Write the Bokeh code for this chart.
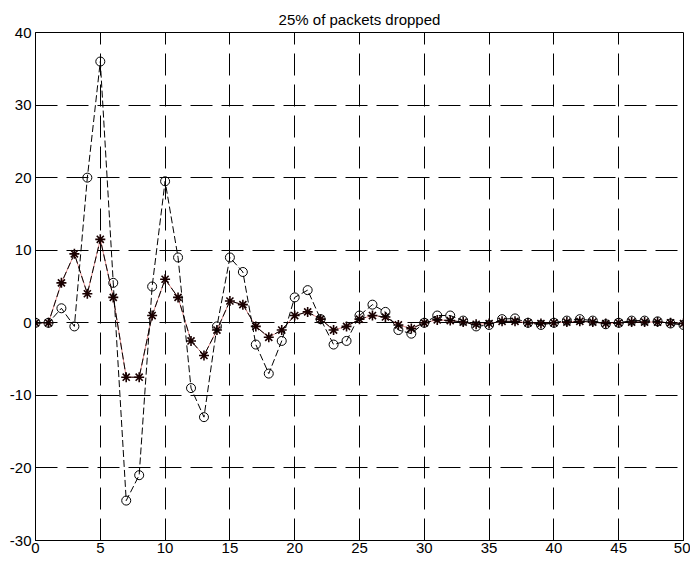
from bokeh.plotting import figure
from bokeh.models import Range1d, FixedTicker, PrintfTickFormatter
from bokeh.embed import file_html
from bokeh.resources import INLINE

x = list(range(0, 51))
circle_vals = [0, 0, 2, -0.5, 20, 36, 5.5, -24.5, -21, 5, 19.5, 9, -9, -13, -0.5, 9, 7, -3, -7, -2.5,
               3.5, 4.5, 0.5, -3, -2.5, 1, 2.5, 1.5, -1, -1.5, 0, 1, 1, 0.3, -0.5, -0.3, 0.5, 0.6, 0, -0.3,
               0, 0.3, 0.5, 0.3, -0.2, 0, 0.3, 0.3, 0.2, -0.1, -0.3]
star_vals = [0, 0, 5.5, 9.5, 4, 11.5, 3.5, -7.5, -7.5, 1, 6, 3.5, -2.5, -4.5, -1, 3, 2.5, -0.5, -2, -1,
             1, 1.5, 0.5, -1, -0.5, 0.5, 1, 0.8, -0.3, -0.8, 0, 0.4, 0.3, 0.1, -0.2, -0.1, 0.2, 0.2, 0, -0.1,
             0, 0.1, 0.2, 0.1, -0.1, 0, 0.1, 0.1, 0.1, 0, -0.1]
x_ticks = [0, 5, 10, 15, 20, 25, 30, 35, 40, 45, 50]
y_ticks = [-30, -20, -10, 0, 10, 20, 30, 40]

p = figure(width=690, height=565, output_backend="svg", toolbar_location=None,
           x_range=Range1d(0, 50), y_range=Range1d(-30, 40),
           min_border_left=35, min_border_right=7, min_border_top=32, min_border_bottom=25,
           title="25% of packets dropped")
p.title.align = "center"
p.title.text_font = "Liberation Sans"
p.title.text_font_style = "normal"
p.title.text_font_size = "15px"
p.title.text_color = "black"

p.background_fill_color = "white"
p.border_fill_color = "white"
p.outline_line_color = "black"
p.outline_line_width = 1
p.outline_line_alpha = 1

for ax in (p.xaxis[0], p.yaxis[0]):
    ax.axis_line_color = "black"
    ax.major_tick_in = 6
    ax.major_tick_out = 0
    ax.minor_tick_in = 0
    ax.minor_tick_out = 0
    ax.major_tick_line_color = "black"
    ax.major_label_text_font = "Liberation Sans"
    ax.major_label_text_font_size = "15px"
    ax.major_label_text_color = "black"
    ax.formatter = PrintfTickFormatter(format="%d")
p.xaxis[0].ticker = FixedTicker(ticks=x_ticks)
p.yaxis[0].ticker = FixedTicker(ticks=y_ticks)
p.xaxis[0].major_label_standoff = 2
p.yaxis[0].major_label_standoff = 4

p.xgrid.ticker = FixedTicker(ticks=x_ticks)
p.ygrid.ticker = FixedTicker(ticks=y_ticks)
for g in (p.xgrid[0], p.ygrid[0]):
    g.grid_line_color = "black"
    g.grid_line_alpha = 1
    g.grid_line_dash = "22 9"
    g.grid_line_width = 1

# true signal (thin red)
p.line(x, star_vals, line_color="#cc0000", line_width=1, line_alpha=0.45)
# star estimate
p.line(x, star_vals, line_color="black", line_dash="7 3", line_width=1)
p.scatter(x, star_vals, marker="asterisk", size=10, line_color="#1a0000", line_width=1.6)
# circle estimate
p.line(x, circle_vals, line_color="black", line_dash="7 3", line_width=1)
p.scatter(x, circle_vals, marker="circle", size=9, fill_color=None, line_color="black", line_width=1)

open("out.html", "w").write(file_html(p, INLINE))
